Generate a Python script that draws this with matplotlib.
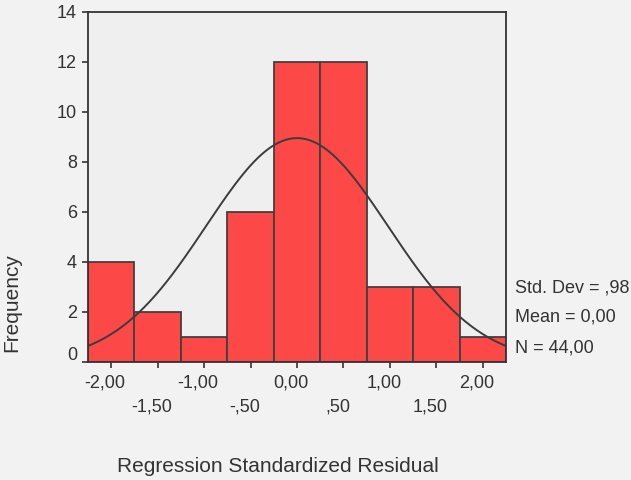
import numpy as np
import matplotlib
matplotlib.use("Agg")
import matplotlib.pyplot as plt
from matplotlib.transforms import ScaledTranslation

plt.rcParams['font.family'] = ['Liberation Sans', 'DejaVu Sans']

# histogram data (bin centers and counts)
centers = [-2.0, -1.5, -1.0, -0.5, 0.0, 0.5, 1.0, 1.5, 2.0]
counts = [4, 2, 1, 6, 12, 12, 3, 3, 1]
tick_labels = ['-2,00', '-1,50', '-1,00', '-,50', '0,00', ',50', '1,00', '1,50', '2,00']
y_ticks = [0, 2, 4, 6, 8, 10, 12, 14]
std_dev = 0.98
mean = 0.0
n = 44
width = 0.5

fig = plt.figure(figsize=(6.31, 4.8), dpi=100)
fig.patch.set_facecolor('#f2f2f2')
ax = fig.add_axes([88/631, 1-362/480, (506-88)/631, (362-12)/480])
ax.set_facecolor('#efefef')

ax.bar(centers, counts, width=width, color='#fd4848', edgecolor='#404040', linewidth=1.3)

# fitted normal curve
xs = np.linspace(-2.25, 2.25, 300)
ys = n * width / (std_dev * np.sqrt(2*np.pi)) * np.exp(-0.5*((xs-mean)/std_dev)**2)
ax.plot(xs, ys, color='#3c3c3c', lw=1.4)

ax.set_xlim(-2.25, 2.25)
ax.set_ylim(0, 14)
ax.set_yticks(y_ticks)
ax.set_yticklabels([str(v) for v in y_ticks], fontsize=13, color='#333333')

# alternating two-row x labels: major row and minor row
ax.set_xticks(centers[0::2])
ax.set_xticklabels(tick_labels[0::2], fontsize=13, color='#333333')
ax.set_xticks(centers[1::2], minor=True)
ax.set_xticklabels(tick_labels[1::2], minor=True, fontsize=13, color='#333333')
ax.tick_params(axis='both', which='both', direction='out', length=4, color='#333333', width=1.2)
ax.tick_params(axis='x', which='major', pad=5)
ax.tick_params(axis='x', which='minor', pad=22)
ax.tick_params(axis='y', pad=4)

shift = ScaledTranslation(-6/100, 0, fig.dpi_scale_trans)
for lab in ax.get_xticklabels() + ax.get_xticklabels(minor=True):
    lab.set_transform(lab.get_transform() + shift)
ylabs = ax.get_yticklabels()
ylabs[0].set_transform(ylabs[0].get_transform() + ScaledTranslation(0, 8/100, fig.dpi_scale_trans))

for s in ax.spines.values():
    s.set_color('#333333')
    s.set_linewidth(1.3)

fig.text(12/631, 1-303/480, 'Frequency', rotation=90, ha='center', va='center',
         fontsize=15, color='#333333')
fig.text(278/631, 1-467/480, 'Regression Standardized Residual', ha='center', va='center',
         fontsize=15, color='#333333')
fig.text(515/631, 1-288/480, 'Std. Dev = ,98', ha='left', va='center', fontsize=13, color='#333333')
fig.text(515/631, 1-317/480, 'Mean = 0,00', ha='left', va='center', fontsize=13, color='#333333')
fig.text(515/631, 1-348/480, 'N = 44,00', ha='left', va='center', fontsize=13, color='#333333')

fig.savefig('out.png', dpi=100, facecolor=fig.get_facecolor())
